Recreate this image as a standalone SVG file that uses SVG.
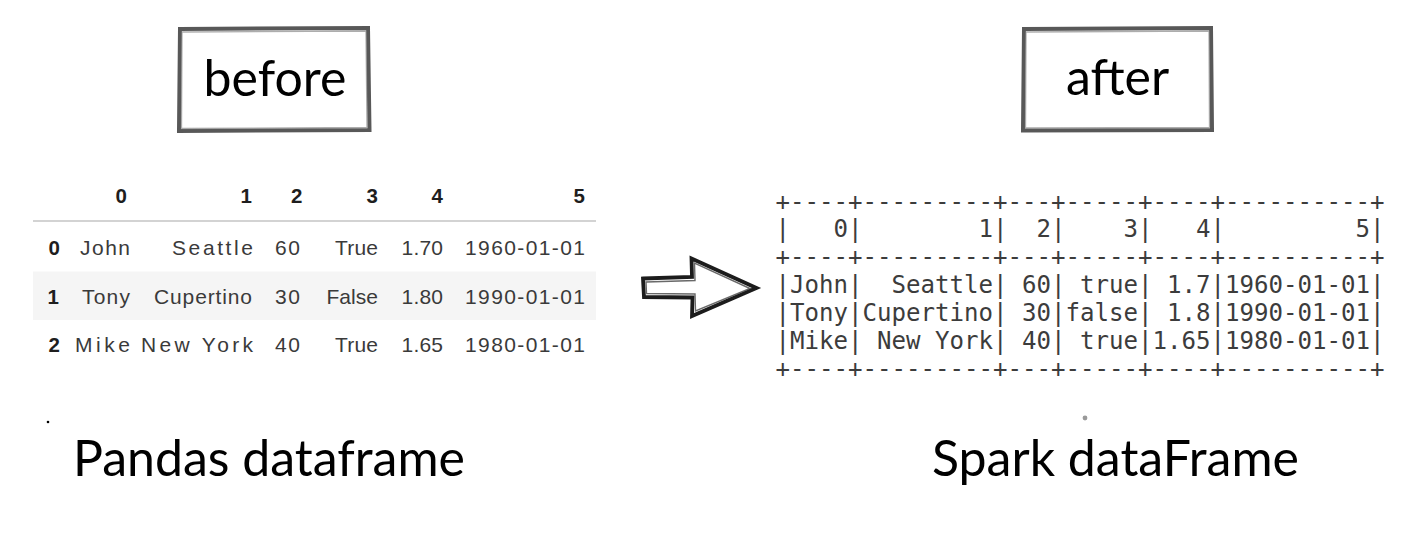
<svg xmlns="http://www.w3.org/2000/svg" width="1426" height="557" viewBox="0 0 1426 557">
<style>
.title{font-family:"Comic Sans MS","Lato","DejaVu Sans",sans-serif;font-size:50px;fill:#000;}
.box{fill:#fff;stroke:#585858;stroke-width:4;stroke-linejoin:miter;}
.box2{fill:none;stroke:#8a8a8a;stroke-width:1.3;opacity:.7;}
.pd{font-family:"Liberation Sans",Arial,sans-serif;font-size:21px;fill:#3a3a3a;text-anchor:end;}
.pdb{font-family:"Liberation Sans",Arial,sans-serif;font-size:20.5px;font-weight:bold;fill:#1e1e1e;text-anchor:end;}
.sp{font-family:"DejaVu Sans Mono","Liberation Mono",monospace;font-size:24.1px;fill:#3c3c3c;white-space:pre;}
.arrow{fill:none;stroke:#1c1c1c;stroke-width:3.8;stroke-linejoin:miter;}
.arrow2{fill:none;stroke:#444;stroke-width:1.4;opacity:.8;}
</style>

<g id="before-label">
<path class="box" d="M180,29 L368,28 L369.5,130 L179,131 Z"/>
<path class="box2" d="M182,32 L366,31 L367,127.5 L181.5,128.5 Z"/>
<text class="title" x="275" y="96" text-anchor="middle">before</text>
</g>

<g id="after-label">
<path class="box" d="M1024,29 L1211,28 L1212,130 L1023,130.5 Z"/>
<path class="box2" d="M1026,32 L1209,31 L1209.5,127.5 L1025.5,128 Z"/>
<text class="title" x="1117.5" y="95" text-anchor="middle">after</text>
</g>

<g id="pandas-table">
<rect x="33" y="271.5" width="563" height="48.5" fill="#f5f5f5"/>
<line x1="33" y1="221" x2="596" y2="221" stroke="#c4c4c4" stroke-width="1.6"/>
<text class="pdb" x="127" y="203">0</text>
<text class="pdb" x="252" y="203">1</text>
<text class="pdb" x="302.5" y="203">2</text>
<text class="pdb" x="378" y="203">3</text>
<text class="pdb" x="443" y="203">4</text>
<text class="pdb" x="585" y="203">5</text>

<text class="pdb" x="60" y="255">0</text>
<text class="pd" x="130" y="255" textLength="50">John</text>
<text class="pd" x="253" y="255" textLength="81">Seattle</text>
<text class="pd" x="300" y="255" textLength="25">60</text>
<text class="pd" x="378" y="255" textLength="43">True</text>
<text class="pd" x="443" y="255" textLength="41.5">1.70</text>
<text class="pd" x="585" y="255" textLength="120">1960-01-01</text>

<text class="pdb" x="59" y="304">1</text>
<text class="pd" x="130" y="304" textLength="48">Tony</text>
<text class="pd" x="252" y="304" textLength="98">Cupertino</text>
<text class="pd" x="300" y="304" textLength="25">30</text>
<text class="pd" x="378" y="304" textLength="51.5">False</text>
<text class="pd" x="443" y="304" textLength="41.5">1.80</text>
<text class="pd" x="585" y="304" textLength="120">1990-01-01</text>

<text class="pdb" x="60" y="352">2</text>
<text class="pd" x="130" y="352" textLength="55">Mike</text>
<text class="pd" x="253" y="352" textLength="112">New York</text>
<text class="pd" x="300" y="352" textLength="25">40</text>
<text class="pd" x="378" y="352" textLength="43">True</text>
<text class="pd" x="443" y="352" textLength="41.5">1.65</text>
<text class="pd" x="585" y="352" textLength="120">1980-01-01</text>
</g>

<g id="connectors">
<path class="arrow" d="M643,278.5 L692,277 L691.5,258.5 L756.5,288 L692,316 L692.5,297.5 L644,297 Z"/>
<path class="arrow2" d="M646,282 L695,280.5 L694.5,263 L750,288.5 L695.5,311 L695,294 L646.5,293.5 Z"/>
</g>

<g id="spark-table">
<text class="sp" x="775.4" y="209.5">+----+---------+---+-----+----+----------+</text>
<text class="sp" x="775.4" y="237.4">|   0|        1|  2|    3|   4|         5|</text>
<text class="sp" x="775.4" y="265.3">+----+---------+---+-----+----+----------+</text>
<text class="sp" x="775.4" y="293.2">|John|  Seattle| 60| true| 1.7|1960-01-01|</text>
<text class="sp" x="775.4" y="321.1">|Tony|Cupertino| 30|false| 1.8|1990-01-01|</text>
<text class="sp" x="775.4" y="349">|Mike| New York| 40| true|1.65|1980-01-01|</text>
<text class="sp" x="775.4" y="376.9">+----+---------+---+-----+----+----------+</text>
</g>

<g id="captions">
<circle cx="48" cy="422" r="1.3" fill="#000"/>
<circle cx="1085" cy="418" r="2.4" fill="#9a9a9a"/>
<text class="title" x="73" y="476">Pandas dataframe</text>
<text class="title" x="932" y="476">Spark dataFrame</text>
</g>
</svg>
